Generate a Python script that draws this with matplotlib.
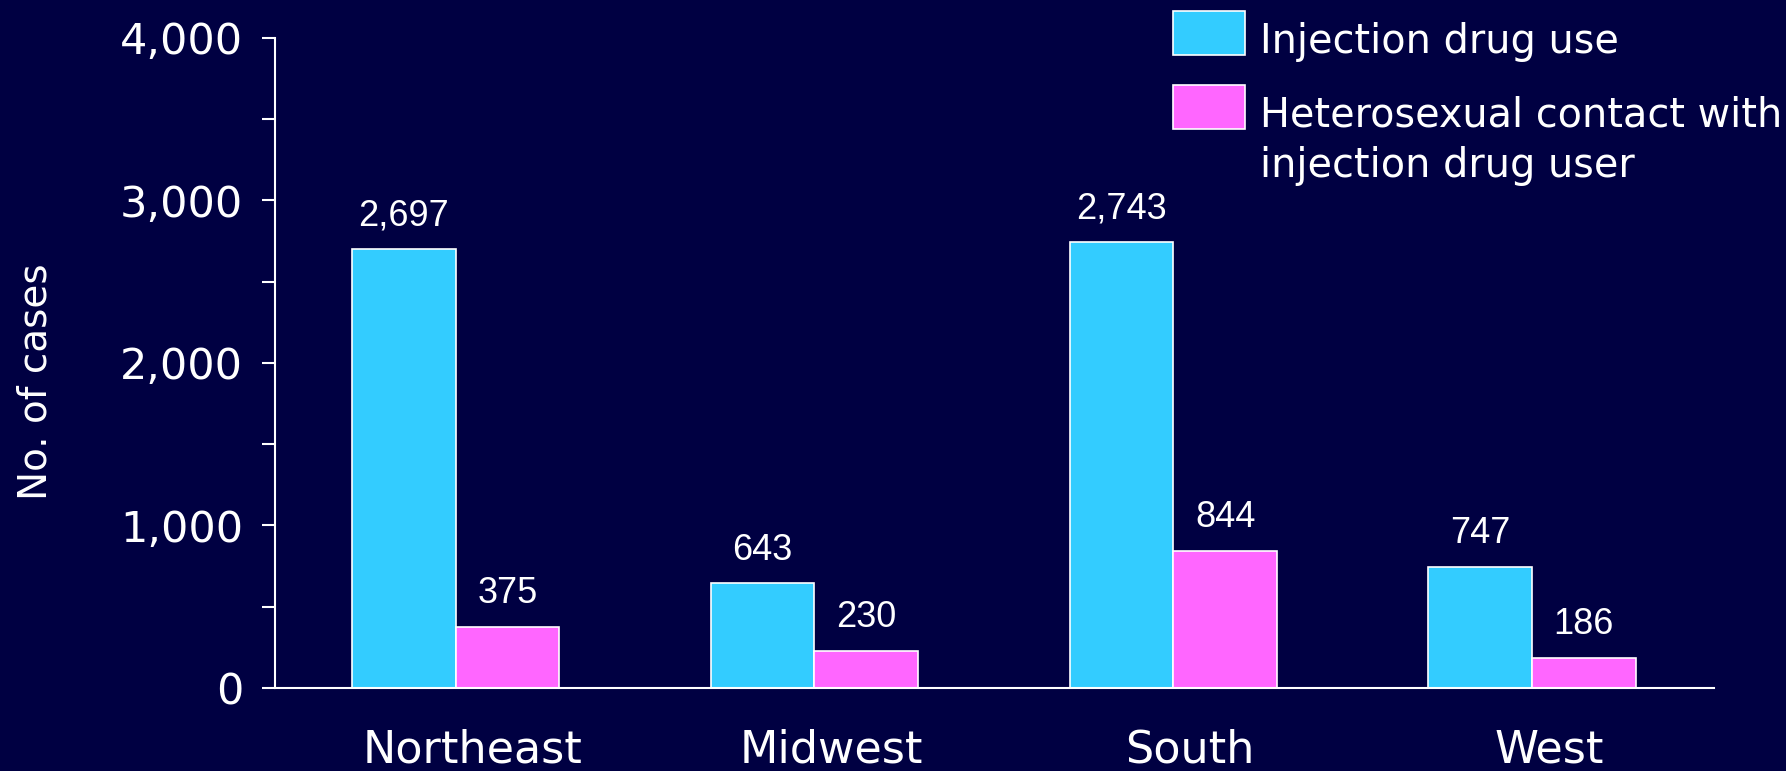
import matplotlib
matplotlib.use("Agg")
import matplotlib.pyplot as plt
from matplotlib.patches import Rectangle
from matplotlib.ticker import MultipleLocator, FuncFormatter
from matplotlib.transforms import ScaledTranslation
import numpy as np

regions = ["Northeast", "Midwest", "South", "West"]
series_names = ["Injection drug use", "Heterosexual contact with\ninjection drug user"]
idu = [2697, 643, 2743, 747]
hetero = [375, 230, 844, 186]

BG = "#000042"
CYAN = "#33CCFF"
PINK = "#FF66FF"
FONT = "DejaVu Sans"
VFONT = "Liberation Sans"

W, H = 1786, 771
fig = plt.figure(figsize=(W / 100, H / 100), dpi=100, facecolor=BG)
ax = fig.add_axes([274.5 / W, 1 - 688 / H, (1714 - 274.5) / W, (688 - 37.6) / H])
ax.set_facecolor(BG)

x = np.arange(len(regions))
bw = 0.289
b1 = ax.bar(x - bw / 2, idu, bw, color=CYAN, edgecolor="white", linewidth=1.2)
b2 = ax.bar(x + bw / 2, hetero, bw, color=PINK, edgecolor="white", linewidth=1.2)

for bars, vals in ((b1, idu), (b2, hetero)):
    for rect, v in zip(bars, vals):
        ax.annotate(f"{v:,}", (rect.get_x() + rect.get_width() / 2, v),
                    xytext=(0, 17), textcoords="offset points",
                    ha="center", va="baseline", color="white",
                    fontsize=26, family=VFONT)

ax.set_xlim(-0.505, 3.507)
ax.set_ylim(0, 4000)
ax.yaxis.set_major_locator(MultipleLocator(1000))
ax.yaxis.set_minor_locator(MultipleLocator(500))
ax.yaxis.set_major_formatter(FuncFormatter(lambda v, p: f"{int(v):,}"))
ax.set_xticks(x)
ax.set_xticklabels(regions, fontsize=32, family=FONT, color="white")
ax.tick_params(axis="x", length=0, pad=29)
shift = ScaledTranslation(17 / 100, 0, fig.dpi_scale_trans)
for lab in ax.get_xticklabels():
    lab.set_transform(lab.get_transform() + shift)
ax.tick_params(axis="y", which="both", direction="out", length=9.5, width=1.5,
               color="white", labelcolor="white", labelsize=31, pad=13)
for lab in ax.get_yticklabels():
    lab.set_family(FONT)

for s in ("top", "right"):
    ax.spines[s].set_visible(False)
for s in ("left", "bottom"):
    ax.spines[s].set_color("white")
    ax.spines[s].set_linewidth(1.5)

fig.text(36 / W, 1 - 382 / H, "No. of cases", rotation=90, ha="center", va="center",
         color="white", fontsize=28, family=FONT)

# Legend (drawn manually to keep patch aligned with first text line)
patch_tops = [11.4, 85.4]
text_base = [53.5, 176.5]
for col, top, name, tb in zip((CYAN, PINK), patch_tops, series_names, text_base):
    fig.patches.append(Rectangle((1173 / W, 1 - (top + 43.3) / H), 72 / W, 43.3 / H,
                                 transform=fig.transFigure, facecolor=col,
                                 edgecolor="white", linewidth=1.2))
    fig.text(1260 / W, 1 - tb / H, name, ha="left", va="baseline", color="white",
             fontsize=28.6, family=FONT, linespacing=1.32)

fig.savefig("out.png", dpi=100, facecolor=BG)
